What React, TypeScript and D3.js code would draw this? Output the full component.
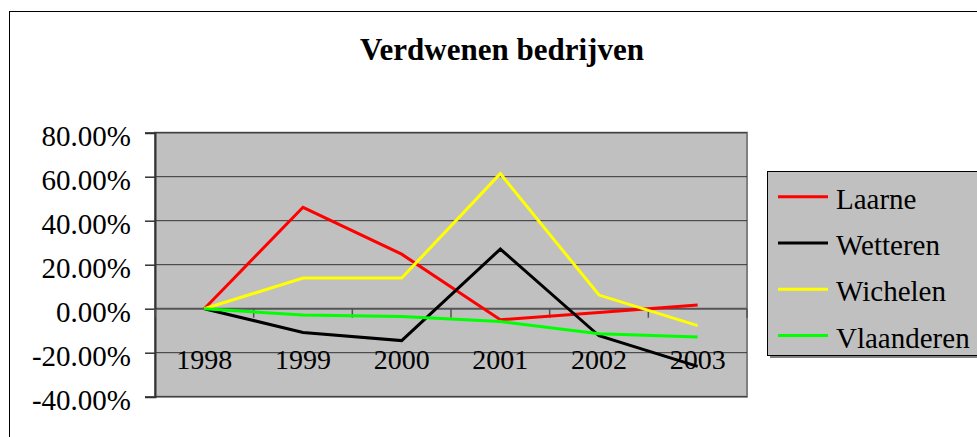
import React, { useEffect, useRef } from 'react';
import * as d3 from 'd3';

const years = ['1998', '1999', '2000', '2001', '2002', '2003'];
const laarne = [0, 0.461, 0.248, -0.05, -0.017, 0.017];
const wetteren = [0, -0.108, -0.145, 0.271, -0.123, -0.262];
const wichelen = [0, 0.139, 0.139, 0.614, 0.062, -0.077];
const vlaanderen = [0, -0.029, -0.035, -0.058, -0.114, -0.129];
const yTicks = [-0.4, -0.2, 0, 0.2, 0.4, 0.6, 0.8];

const seriesNames = ['Laarne', 'Wetteren', 'Wichelen', 'Vlaanderen'];
const seriesColors = ['#ff0000', '#000000', '#ffff00', '#00ff00'];

const font = 'Liberation Serif';

const App: React.FC = () => {
  const svgRef = useRef<SVGSVGElement>(null);

  useEffect(() => {
    if (!svgRef.current) return;
    const svg = d3.select(svgRef.current);
    svg.selectAll('*').remove();

    const width = 977;
    const height = 437;
    const plot = { left: 155, right: 747, top: 132.7, bottom: 396.7 };

    const series = [laarne, wetteren, wichelen, vlaanderen].map((values, i) => ({
      name: seriesNames[i],
      color: seriesColors[i],
      values,
    }));

    const x = d3.scaleBand().domain(years).range([plot.left, plot.right]);
    const y = d3.scaleLinear().domain([-0.4, 0.8]).range([plot.bottom, plot.top]);
    const pct = (d: number) => d3.format('.2%')(d).replace('\u2212', '-');

    svg.append('rect').attr('width', width).attr('height', height).attr('fill', '#fff');

    // outer chart frame, cut off on the right and bottom
    svg.append('rect')
      .attr('x', 9.5).attr('y', 11.5)
      .attr('width', 1000).attr('height', 500)
      .attr('fill', 'none').attr('stroke', '#000').attr('stroke-width', 1);

    // title
    svg.append('text')
      .attr('x', 502).attr('y', 60)
      .attr('text-anchor', 'middle')
      .attr('font-family', font)
      .attr('font-weight', 'bold')
      .attr('font-size', 31)
      .attr('fill', '#000')
      .text('Verdwenen bedrijven');

    // plot background
    svg.append('rect')
      .attr('x', plot.left).attr('y', plot.top)
      .attr('width', plot.right - plot.left).attr('height', plot.bottom - plot.top)
      .attr('fill', '#c0c0c0')
      .attr('stroke', '#808080').attr('stroke-width', 2);

    // gridlines
    svg.append('g')
      .selectAll('line')
      .data(yTicks)
      .join('line')
      .attr('x1', plot.left).attr('x2', plot.right)
      .attr('y1', d => y(d)).attr('y2', d => y(d))
      .attr('stroke', d => (d === 0 ? '#555' : '#333'))
      .attr('stroke-width', d => (d === 0 ? 2 : 1));

    // value axis
    const yAxis = svg.append('g')
      .attr('transform', `translate(${plot.left},0)`)
      .call(d3.axisLeft(y).tickValues(yTicks).tickSize(10).tickPadding(14).tickFormat(d => pct(+d)));
    yAxis.attr('font-family', font);
    yAxis.select('.domain').attr('stroke', '#333').attr('stroke-width', 2);
    yAxis.selectAll('.tick line').attr('stroke', '#333').attr('stroke-width', 1.5);
    yAxis.selectAll('.tick text')
      .attr('font-family', font)
      .attr('font-size', 29)
      .attr('fill', '#000')
      .attr('dy', '0.45em');

    // category axis ticks on the zero line
    const bounds = years.map(d => x(d)!).concat([plot.right]);
    svg.append('g')
      .selectAll('line')
      .data(bounds)
      .join('line')
      .attr('x1', d => d).attr('x2', d => d)
      .attr('y1', y(0)).attr('y2', y(0) + 9)
      .attr('stroke', '#555').attr('stroke-width', 1.5);

    svg.append('g')
      .selectAll('text')
      .data(years)
      .join('text')
      .attr('x', d => x(d)! + x.bandwidth() / 2)
      .attr('y', 369)
      .attr('text-anchor', 'middle')
      .attr('font-family', font)
      .attr('font-size', 28)
      .attr('fill', '#000')
      .text(d => d);

    // lines
    const line = d3.line<number>()
      .x((_, i) => x(years[i])! + x.bandwidth() / 2)
      .y(d => y(d));

    svg.append('g')
      .selectAll('path')
      .data(series)
      .join('path')
      .attr('d', d => line(d.values))
      .attr('fill', 'none')
      .attr('stroke', d => d.color)
      .attr('stroke-width', 3)
      .attr('stroke-linejoin', 'miter');

    // legend
    const legend = svg.append('g');
    legend.append('rect')
      .attr('x', 770).attr('y', 174)
      .attr('width', 240).attr('height', 184)
      .attr('fill', '#808080');
    legend.append('rect')
      .attr('x', 767.5).attr('y', 171.5)
      .attr('width', 240).attr('height', 184)
      .attr('fill', '#c0c0c0').attr('stroke', '#000').attr('stroke-width', 1);

    const rows = legend.selectAll('g.item')
      .data(series)
      .join('g')
      .attr('class', 'item')
      .attr('transform', (_, i) => `translate(0,${196.7 + i * 46.3})`);
    rows.append('line')
      .attr('x1', 778).attr('x2', 828)
      .attr('stroke', d => d.color).attr('stroke-width', 3);
    rows.append('text')
      .attr('x', 836)
      .attr('y', 0)
      .attr('dy', '0.42em')
      .attr('font-family', font)
      .attr('font-size', 29)
      .attr('fill', '#000')
      .text(d => d.name);
  }, []);

  return (
    <svg
      ref={svgRef}
      width={977}
      height={437}
      style={{ position: 'absolute', left: 0, top: 0, display: 'block' }}
    />
  );
};

export default App;
